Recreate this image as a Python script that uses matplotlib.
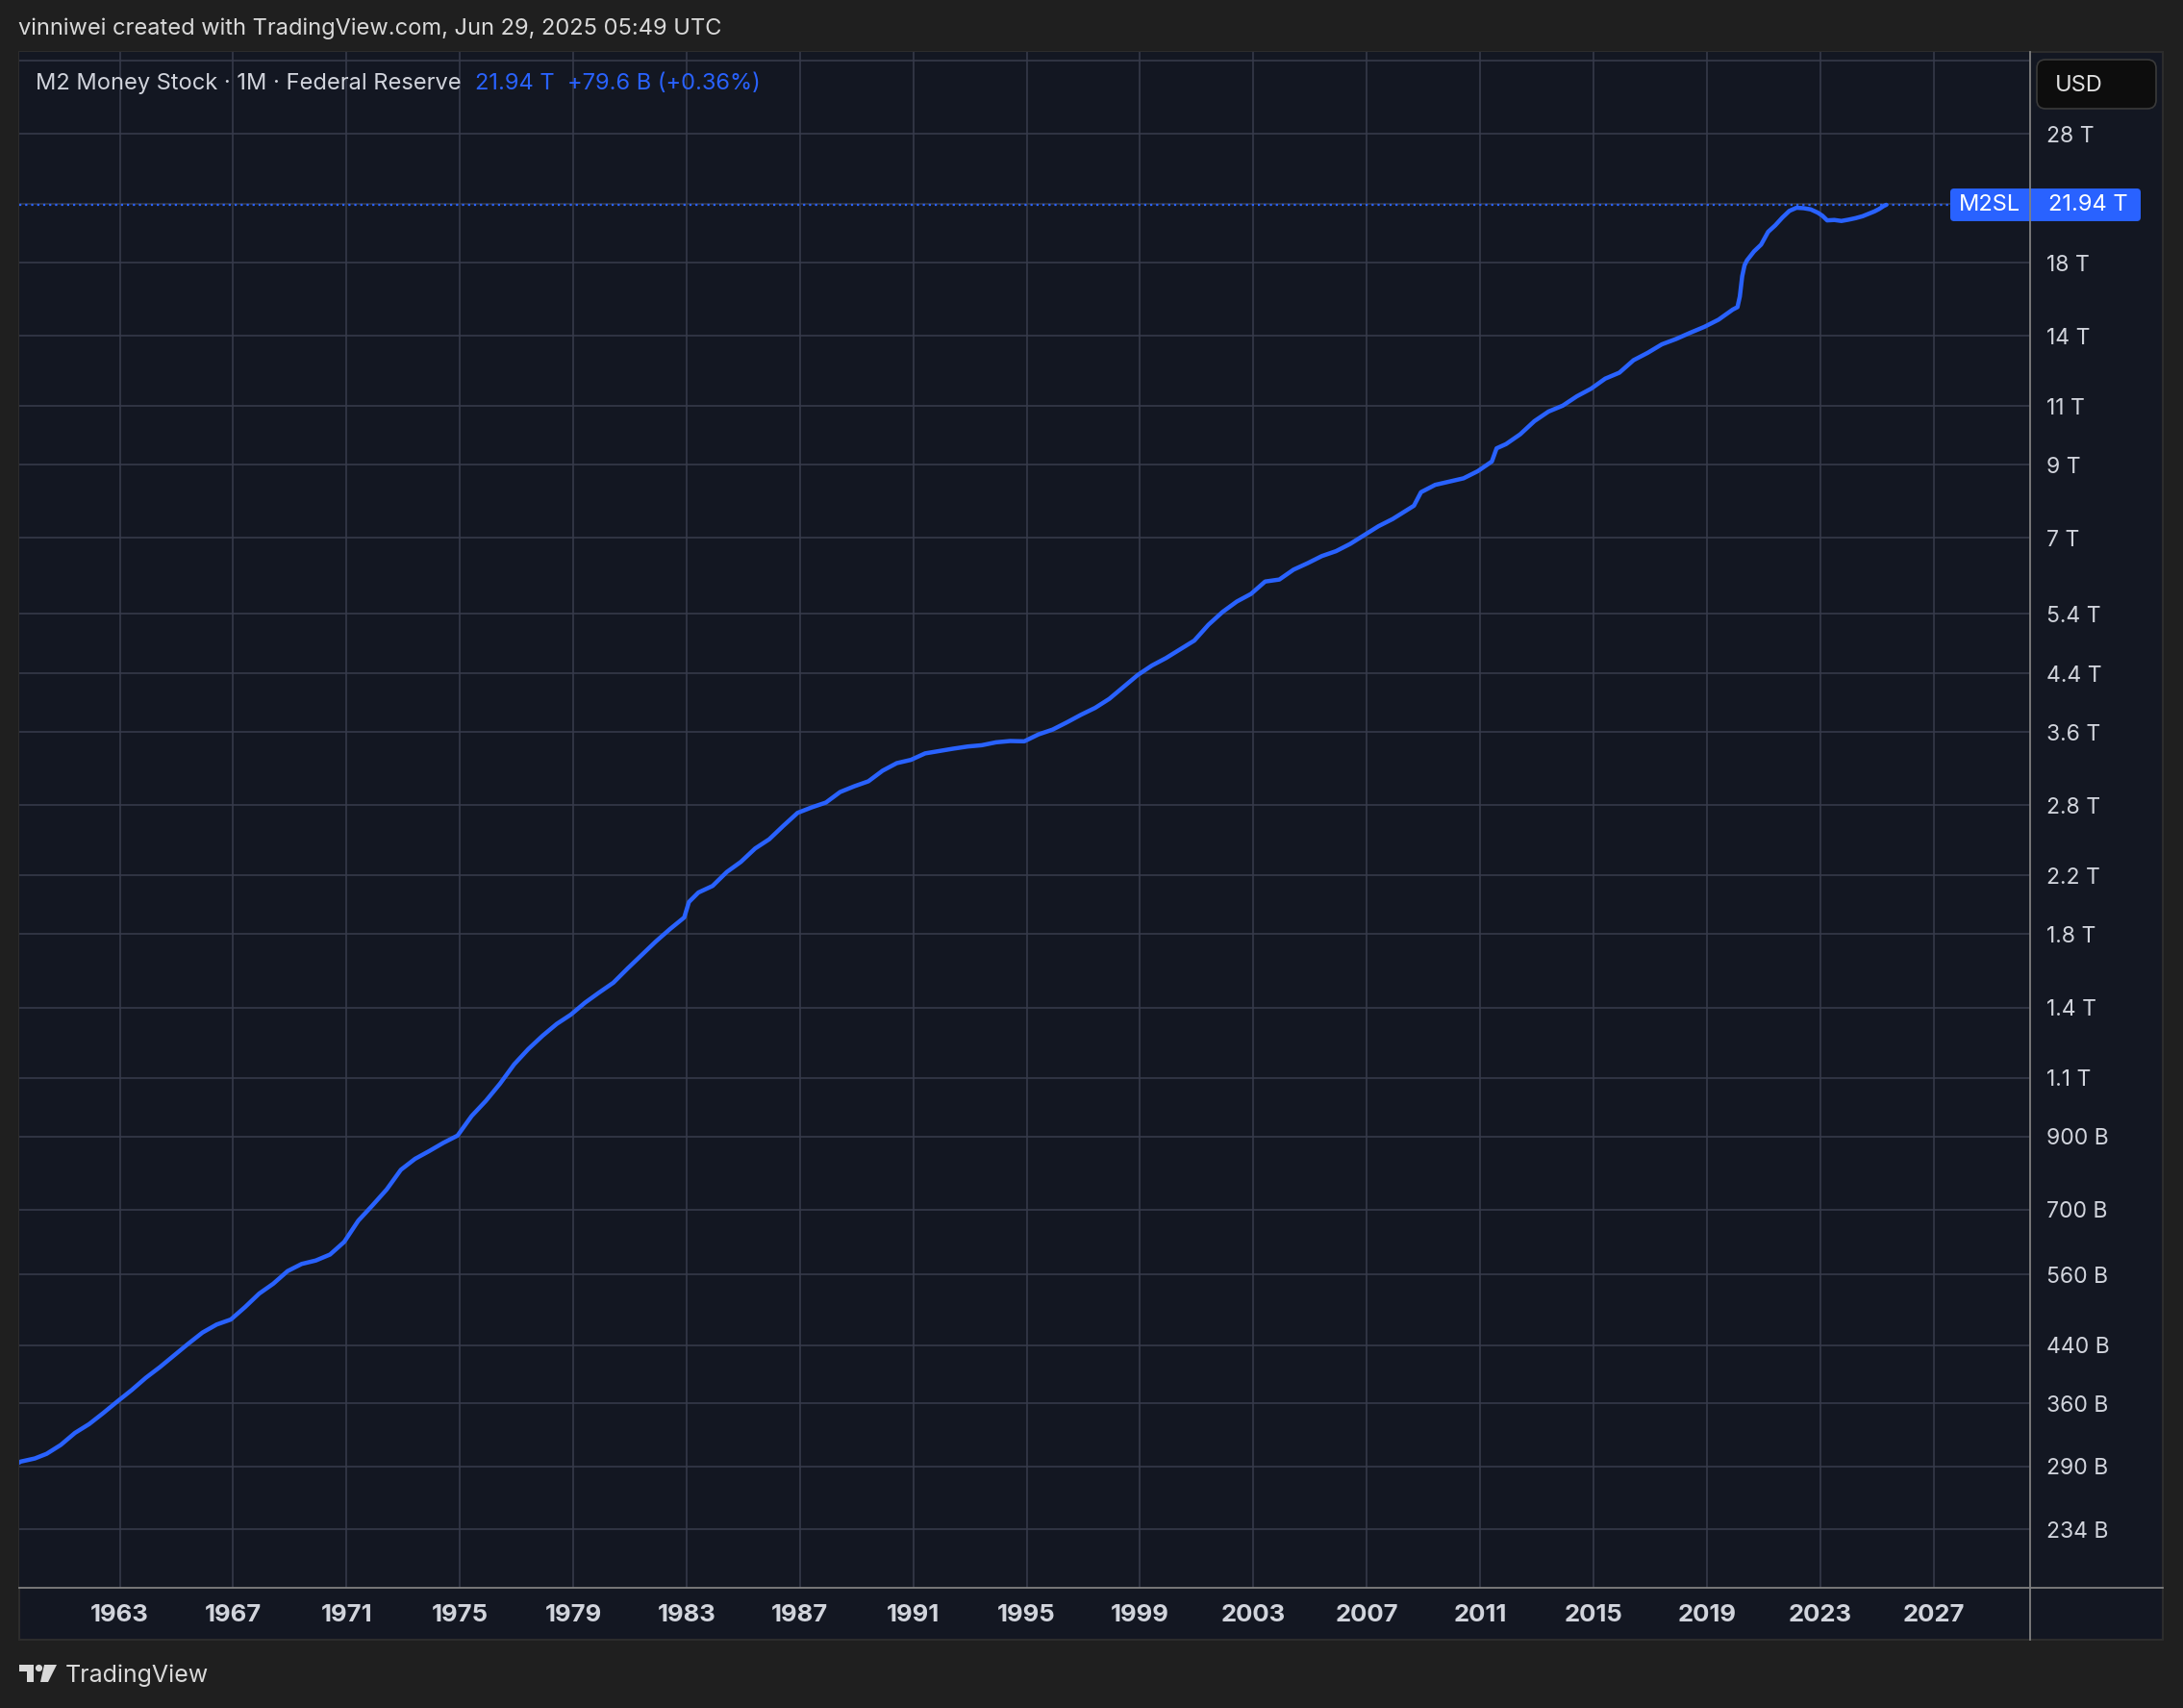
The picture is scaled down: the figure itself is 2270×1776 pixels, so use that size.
import matplotlib
matplotlib.use("Agg")
import matplotlib.pyplot as plt
from matplotlib.patches import FancyBboxPatch, Polygon, Circle, Rectangle
from matplotlib.lines import Line2D
from matplotlib.ticker import FixedLocator, FixedFormatter, NullLocator
from matplotlib.transforms import IdentityTransform

plt.rcParams['font.family'] = ['Inter', 'DejaVu Sans']

# ---------------- data (M2 money stock, billions USD) ----------------
dates = [
    "1959-01", "1959-07", "1960-01", "1960-06", "1960-12", "1961-06", "1961-12",
    "1962-06", "1962-12", "1963-06", "1963-12", "1964-06", "1964-12", "1965-06",
    "1965-12", "1966-06", "1966-12", "1967-06", "1967-12", "1968-06", "1968-12",
    "1969-06", "1969-12", "1970-06", "1970-12", "1971-06", "1971-12", "1972-06",
    "1972-12", "1973-06", "1973-12", "1974-06", "1974-12", "1975-06", "1975-12",
    "1976-06", "1976-12", "1977-06", "1977-12", "1978-06", "1978-12", "1979-06",
    "1979-12", "1980-06", "1980-12", "1981-06", "1981-12", "1982-06", "1982-12",
    "1983-02", "1983-06", "1983-12", "1984-06", "1984-12", "1985-06", "1985-12",
    "1986-06", "1986-12", "1987-06", "1987-12", "1988-06", "1988-12", "1989-06",
    "1989-12", "1990-06", "1990-12", "1991-06", "1991-12", "1992-06", "1992-12",
    "1993-06", "1993-12", "1994-06", "1994-12", "1995-06", "1995-12", "1996-06",
    "1996-12", "1997-06", "1997-12", "1998-06", "1998-12", "1999-06", "1999-12",
    "2000-06", "2000-12", "2001-06", "2001-12", "2002-06", "2002-12", "2003-06",
    "2003-12", "2004-06", "2004-12", "2005-06", "2005-12", "2006-06", "2006-12",
    "2007-06", "2007-12", "2008-06", "2008-09", "2008-12", "2009-06", "2009-12",
    "2010-06", "2010-12", "2011-06", "2011-08", "2011-12", "2012-06", "2012-12",
    "2013-06", "2013-12", "2014-06", "2014-12", "2015-06", "2015-12", "2016-06",
    "2016-12", "2017-06", "2017-12", "2018-06", "2018-12", "2019-06", "2019-12",
    "2020-02", "2020-03", "2020-04", "2020-05", "2020-06", "2020-09", "2020-12",
    "2021-03", "2021-06", "2021-09", "2021-12", "2022-03", "2022-06", "2022-09",
    "2022-12", "2023-02", "2023-04", "2023-07", "2023-10", "2024-01", "2024-04",
    "2024-07", "2024-10", "2024-12", "2025-02", "2025-04", "2025-05",
]
m2_billions = [
    286.6, 295.0, 298.2, 303.0, 312.4, 325.5, 335.5,
    348.5, 362.7, 377.0, 393.2, 408.0, 424.7, 442.0,
    459.2, 472.0, 480.2, 501.0, 524.8, 543.0, 566.8,
    581.0, 587.9, 600.0, 626.5, 674.0, 710.3, 750.0,
    802.3, 833.0, 855.5, 880.0, 902.1, 965.0, 1016.2,
    1078.0, 1152.0, 1214.0, 1270.3, 1323.0, 1366.0, 1423.0,
    1473.7, 1524.0, 1599.8, 1676.0, 1755.5, 1832.0, 1905.9,
    2010.0, 2076.0, 2123.5, 2227.0, 2306.4, 2414.0, 2492.1,
    2610.0, 2728.0, 2780.0, 2826.4, 2930.0, 2988.2, 3040.0,
    3152.5, 3235.0, 3271.8, 3345.0, 3372.2, 3400.0, 3424.7,
    3440.0, 3474.5, 3490.0, 3486.4, 3570.0, 3629.5, 3720.0,
    3818.6, 3910.0, 4032.9, 4200.0, 4375.2, 4520.0, 4638.0,
    4780.0, 4925.0, 5200.0, 5433.8, 5630.0, 5779.2, 6030.0,
    6071.2, 6280.0, 6421.6, 6580.0, 6691.7, 6860.0, 7071.6,
    7290.0, 7471.6, 7700.0, 7820.0, 8191.6, 8400.0, 8496.0,
    8590.0, 8801.9, 9100.0, 9520.0, 9660.0, 9990.0, 10450.0,
    10800.0, 11020.0, 11380.0, 11680.0, 12090.0, 12340.0, 12880.0,
    13210.0, 13600.0, 13850.0, 14150.0, 14440.0, 14800.0, 15320.0,
    15450.0, 16020.0, 17170.0, 17830.0, 18130.0, 18700.0, 19140.0,
    20000.0, 20450.0, 21000.0, 21490.0, 21720.0, 21690.0, 21600.0,
    21360.0, 21130.0, 20800.0, 20830.0, 20760.0, 20850.0, 20960.0,
    21100.0, 21310.0, 21450.0, 21630.0, 21860.0, 21940.0,
]

y_ticks = [234, 290, 360, 440, 560, 700, 900, 1100, 1400, 1800, 2200, 2800,
           3600, 4400, 5400, 7000, 9000, 11000, 14000, 18000, 22000, 28000, 36000]
y_tick_labels = ["234 B", "290 B", "360 B", "440 B", "560 B", "700 B", "900 B",
                 "1.1 T", "1.4 T", "1.8 T", "2.2 T", "2.8 T", "3.6 T", "4.4 T",
                 "5.4 T", "7 T", "9 T", "11 T", "14 T", "18 T", "", "28 T", ""]
x_ticks = [1963, 1967, 1971, 1975, 1979, 1983, 1987, 1991, 1995, 1999, 2003,
           2007, 2011, 2015, 2019, 2023, 2027]
x_tick_labels = [str(v) for v in x_ticks]

title_text = "M2 Money Stock \u00b7 1M \u00b7 Federal Reserve"
last_value_text = "21.94 T"
change_text = "+79.6 B (+0.36%)"
symbol_text = "M2SL"
watermark_text = "vinniwei created with TradingView.com, Jun 29, 2025 05:49 UTC"

# ---------------- styling ----------------
W, H = 2270, 1776
BG = "#1F1F1F"
PANEL = "#131722"
GRID = "#383C4C"
BLUE = "#2962FF"
TXT = "#D1D4DC"
SEP = "#808080"

xs = [int(d[:4]) + (int(d[5:7]) - 1) / 12.0 for d in dates]

fig = plt.figure(figsize=(W / 100, H / 100), dpi=100, facecolor=BG)
idt = IdentityTransform()

def Y(y):  # top-origin pixel -> display pixel
    return H - y

# chart panel
fig.add_artist(Rectangle((20, Y(1705)), 2249 - 20, 1705 - 54, transform=idt,
                         facecolor=PANEL, edgecolor="#2C2C2C", lw=1.5, zorder=0))

ax = fig.add_axes([20 / W, 1 - 1651 / H, (2111 - 20) / W, (1651 - 54) / H])
ax.set_facecolor(PANEL)
ax.set_yscale("log")
ax.set_xlim(1959.45, 2030.41)
ax.set_ylim(191.4, 37060)

ax.yaxis.set_major_locator(FixedLocator(y_ticks))
ax.yaxis.set_major_formatter(FixedFormatter(y_tick_labels))
ax.yaxis.set_minor_locator(NullLocator())
ax.xaxis.set_major_locator(FixedLocator(x_ticks))
ax.xaxis.set_major_formatter(FixedFormatter(x_tick_labels))
ax.xaxis.set_minor_locator(NullLocator())
ax.yaxis.tick_right()
ax.grid(True, color=GRID, lw=1.1, zorder=0)
ax.set_axisbelow(True)
for s in ax.spines.values():
    s.set_visible(False)
ax.tick_params(axis="y", length=0, colors=TXT, labelsize=16.5, pad=12)
ax.tick_params(axis="x", length=0, colors=TXT, labelsize=18.5, pad=12)
for lab in ax.get_xticklabels():
    lab.set_fontweight("bold")

ax.plot(xs, m2_billions, color=BLUE, lw=3.2, solid_joinstyle="round",
        solid_capstyle="round", zorder=3)

last = m2_billions[-1]
ax.axhline(last, xmin=0, xmax=(2028 - 20) / (2111 - 20), color=BLUE, lw=1.6,
           ls=(0, (1.0, 1.8)), zorder=2)

# separators
fig.add_artist(Line2D([20, 2249], [Y(1651), Y(1651)], transform=idt, color=SEP, lw=1.3, zorder=5))
fig.add_artist(Line2D([2111, 2111], [Y(54), Y(1705)], transform=idt, color=SEP, lw=1.3, zorder=6))

# price label
yd = ax.transData.transform((2000, last))[1]
fig.add_artist(FancyBboxPatch((2028, yd - 17), 2226 - 2028, 34, transform=idt,
                              boxstyle="round,pad=0,rounding_size=4",
                              facecolor=BLUE, edgecolor="none", zorder=5))
fig.text(2069 / W, yd / H, symbol_text, color="white", fontsize=17,
         ha="center", va="center", zorder=7)
fig.text(2130 / W, yd / H, last_value_text, color="white", fontsize=17,
         ha="left", va="center", zorder=7)

# USD box
fig.add_artist(FancyBboxPatch((2118, Y(113)), 2242 - 2118, 113 - 62, transform=idt,
                              boxstyle="round,pad=0,rounding_size=9",
                              facecolor="#0D0D0D", edgecolor="#3A3A3A", lw=1.2, zorder=5))
fig.text(2137 / W, Y(89) / H, "USD", color="#E0E0E0", fontsize=17,
         ha="left", va="center", zorder=7)

# header texts
fig.text(19 / W, Y(30) / H, watermark_text, color="#D9D9D9", fontsize=17,
         ha="left", va="center")
renderer = fig.canvas.get_renderer()
t1 = fig.text(37 / W, Y(87) / H, title_text, color=TXT, fontsize=17,
              ha="left", va="center", zorder=7)
x1 = t1.get_window_extent(renderer).x1
t2 = fig.text((x1 + 14) / W, Y(87) / H, last_value_text, color=BLUE, fontsize=17,
              ha="left", va="center", zorder=7)
x2 = t2.get_window_extent(renderer).x1
fig.text((x2 + 14) / W, Y(87) / H, change_text, color=BLUE, fontsize=17,
         ha="left", va="center", zorder=7)

# TradingView logo
LOGO = "#D9D9D9"
fig.add_artist(Polygon([(20, Y(1731)), (35, Y(1731)), (35, Y(1749)), (28, Y(1749)),
                        (28, Y(1738)), (20, Y(1738))], closed=True, transform=idt,
                       facecolor=LOGO, edgecolor="none"))
fig.add_artist(Circle((40.5, Y(1734.5)), 3.6, transform=idt, facecolor=LOGO, edgecolor="none"))
fig.add_artist(Polygon([(46, Y(1731)), (59, Y(1731)), (50, Y(1749)), (42, Y(1749))],
                       closed=True, transform=idt, facecolor=LOGO, edgecolor="none"))
fig.text(68 / W, Y(1742) / H, "TradingView", color=LOGO, fontsize=18,
         ha="left", va="center")

fig.savefig("out.png", dpi=100, facecolor=BG)
